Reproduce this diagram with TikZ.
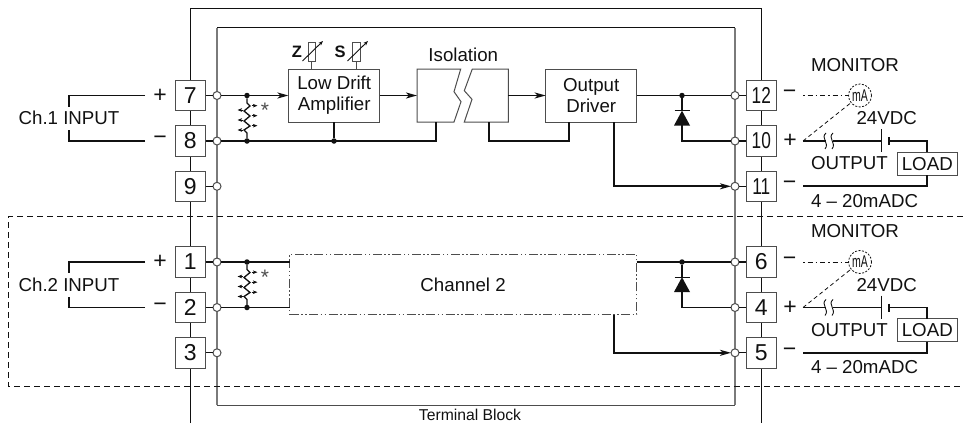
\documentclass[tikz,border=0pt]{standalone}
\usepackage{fontspec}
\setmainfont{Liberation Sans}
\usetikzlibrary{arrows.meta,calc}
\definecolor{ink}{HTML}{111111}
\definecolor{boxgray}{HTML}{4D4D4D}
\definecolor{railgray}{HTML}{7A7A7A}
\tikzset{
  x=1pt,y=-1pt,
  every node/.style={text=ink,inner sep=0pt,outer sep=0pt},
  txt/.style={font=\fontsize{18.7}{20.7}\selectfont,align=center},
  term/.style={draw=boxgray,fill=white,line width=1pt,minimum width=30.5pt,minimum height=30.5pt,font=\fontsize{23}{23}\selectfont},
  hole/.style={circle,draw=boxgray,fill=white,line width=1pt,minimum size=8pt},
  junc/.style={circle,fill=ink,minimum size=5.5pt},
  block/.style={draw=boxgray,fill=white,line width=1pt,txt},
  wire/.style={draw=ink,line width=1.7pt},
  stub/.style={draw=ink,line width=1.1pt},
  flow/.style={wire,-{Stealth[length=11pt,width=6pt,inset=3pt]}},
  sign/.style={font=\fontsize{23}{23}\selectfont},
  tinytip/.style={draw=ink,line width=.8pt,-{Stealth[length=4.5pt,width=3.5pt,inset=1pt]}},
}
% #1 prefix, #2 upper, #3 lower, #4 third term, #5 label
\newcommand{\inputside}[5]{%
  \node[term] (#1a) at (190.3,95.5) {#2};
  \node[term] (#1b) at (190.3,141) {#3};
  \node[term] (#1c) at (190.3,186.3) {#4};
  \node[hole] (#1ha) at (217,95.5) {};
  \node[hole] (#1hb) at (217,141) {};
  \node[hole] (#1hc) at (217,186.3) {};
  \draw[stub] (#1a) -- (#1ha);
  \draw[stub] (#1b) -- (#1hb);
  \draw[stub] (#1c) -- (#1hc);
  \node[junc] (#1ja) at (247,95.5) {};
  \node[junc] (#1jb) at (247,141) {};
  \draw[line width=1.3pt,draw=ink,line join=miter] (#1ja) -- (247,103) -- (250,106) -- (244,111) -- (250,116) -- (244,121) -- (250,126) -- (244,130) -- (247,133) -- (#1jb);
  \foreach \yy in {105.7,115.7,125.7} \draw[tinytip] (251.5,\yy) -- (257.5,\yy);
  \foreach \yy in {110,120,130} \draw[tinytip] (243,\yy) -- (237.5,\yy);
  \node[font=\fontsize{21}{21}\selectfont,text=boxgray] (#1star) at (265,110.5) {*};
  \node[txt] (#1lab) at (69,118) {#5};
  \coordinate (#1pa) at (145,95.5);
  \coordinate (#1pb) at (145,141);
  \draw[wire] (#1pa) -- (69,95.5) -- (69,106.5);
  \draw[wire] (#1pb) -- (69,141) -- (69,130);
  \node[sign] (#1plus) at (160,95.5) {+};
  \node[sign] (#1minus) at (160,140.5) {−};
}
% #1 prefix, #2 upper, #3 middle, #4 lower
\newcommand{\outputside}[4]{%
  \node[term] (#1a) at (761.3,95.5) {#2};
  \node[term] (#1b) at (761.3,141) {#3};
  \node[term] (#1c) at (761.3,186.3) {#4};
  \node[hole] (#1ha) at (735,95.5) {};
  \node[hole] (#1hb) at (735,141) {};
  \node[hole] (#1hc) at (735,186.3) {};
  \draw[stub] (#1a) -- (#1ha);
  \draw[stub] (#1b) -- (#1hb);
  \draw[stub] (#1c) -- (#1hc);
  \node[junc] (#1j) at (682,95.5) {};
  \coordinate (#1bar) at (682,110.7);
  \coordinate (#1tip) at (682,141);
  \draw[wire] (#1ha) -- (#1j);
  \draw[wire] (#1j) -- (#1bar);
  \draw[wire] (682,125) -- (#1tip) -- (#1hb);
  \draw[line width=1pt,draw=ink] (674.5,110.7) -- (689.5,110.7);
  \fill[ink] (682,110.7) -- (690,125.5) -- (674,125.5) -- cycle;
  \node[sign] (#1m1) at (789.5,94.5) {−};
  \node[sign] (#1p2) at (790,141) {+};
  \node[sign] (#1m3) at (789.5,185.5) {−};
  \node[circle,draw=ink,dash pattern=on 2pt off 1.5pt,line width=.8pt,minimum size=23pt,font=\fontsize{17}{17}\selectfont] (#1ma) at (860,95.5) {\scalebox{.62}[1]{mA}};
  \coordinate (#1wa) at (803,95.5);
  \coordinate (#1wb) at (803,141);
  \coordinate (#1wc) at (803,186.3);
  \draw[draw=ink,line width=.8pt,dash pattern=on 1.5pt off 3pt on 5pt off 3pt] (#1wa) -- (#1ma);
  \draw[draw=ink,line width=.8pt,dash pattern=on 4pt off 3pt] (#1wb) -- (#1ma);
  \node[draw=boxgray,fill=white,line width=1pt,minimum width=60.5pt,minimum height=22.7pt,txt] (#1load) at (927.3,163.7) {LOAD};
  \coordinate (#1bat) at (881.7,141);
  \coordinate (#1bat2) at (889.3,141);
  \draw[wire] (#1wb) -- (#1bat);
  \fill[white] (826,133) rectangle (832.5,149);
  \draw[draw=ink,line width=.9pt] (826,133) .. controls (820,138) and (830,143) .. (825,149);
  \draw[draw=ink,line width=.9pt] (833,133) .. controls (827,138) and (837,143) .. (832,149);
  \draw[draw=ink,line width=1pt] (881.7,129) -- (881.7,152);
  \draw[draw=ink,line width=2pt] (889.3,137) -- (889.3,145);
  \draw[wire] (#1bat2) -| (#1load.north);
  \draw[wire] (#1load.south) |- (#1wc);
  \node[txt,anchor=west] (#1t1) at (811,65) {MONITOR};
  \node[txt] (#1t2) at (886.7,118.5) {24VDC};
  \node[txt,anchor=west] (#1t3) at (811,163.5) {OUTPUT};
  \node[txt,anchor=west] (#1t4) at (811,201) {4 – 20mADC};
}
\begin{document}
\begin{tikzpicture}
\useasboundingbox (0,0) rectangle (963,423);
% terminal block rails
\coordinate (obl) at (190.5,423);
\coordinate (obr) at (761.3,423);
\draw[draw=ink,line width=1pt] (obl) -- (190.5,8.5) -- (761.3,8.5) -- (obr);
% inner frame
\coordinate (ftl) at (217,27.5);
\coordinate (ftr) at (735,27.5);
\coordinate (fbl) at (217,405.3);
\coordinate (fbr) at (735,405.3);
\draw[draw=railgray,line width=1.2pt] (fbl) -- (ftl);
\draw[draw=railgray,line width=1.2pt] (fbr) -- (ftr);
\draw[draw=ink,line width=.9pt] (ftl) -- (ftr);
\draw[draw=boxgray,line width=.9pt] (fbl) -- (fbr);
% channel-2 dashed frame
\draw[draw=ink,line width=.8pt,dash pattern=on 6pt off 4pt] (963,216.5) -- (8.8,216.5) -- (8.8,386.7) -- (963,386.7);
\node[font=\fontsize{15.7}{15.7}\selectfont] (tb) at (470,414.8) {Terminal Block};
% channel 1
\inputside{L}{7}{8}{9}{Ch.1 INPUT}
\outputside{R}{\scalebox{.75}[1]{12}}{\scalebox{.75}[1]{10}}{\scalebox{.75}[1]{11}}
\node[block,minimum width=91.5pt,minimum height=53pt] (amp) at (334.2,95.5) {Low Drift\\Amplifier};
\node[block,minimum width=91pt,minimum height=53pt] (drv) at (591.2,95.5) {Output\\Driver};
\node[txt] (iso) at (463.3,55) {Isolation};
\draw[block] (417,69) -- (460.7,69) -- (454,91.7) -- (461,101.7) -- (454,122) -- (417,122) -- cycle;
\draw[block] (508.3,69) -- (472.3,69) -- (464.3,90.7) -- (472,99.3) -- (464.3,122) -- (508.3,122) -- cycle;
\coordinate (isoL) at (417,95.5);
\coordinate (isoR) at (508.3,95.5);
\coordinate (isoLb) at (436.3,122);
\coordinate (isoRb) at (489.3,122);
\draw[flow] (Lha) -- (amp);
\draw[flow] (amp) -- (isoL);
\draw[flow] (isoR) -- (drv);
\draw[wire] (Lhb) -- (436.3,141) -- (isoLb);
\node[junc] (ampj) at (334,141) {};
\draw[wire] (ampj) -- (334,122);
\draw[wire] (isoRb) -- (489.3,141) -- (568.7,141) -- (568.7,122);
\draw[wire] (drv) -- (Rha);
\draw[flow] (614,122) -- (614,186.3) -- (Rhc);
% variable resistors
\node[font=\bfseries\fontsize{16.5}{16.5}\selectfont] (zl) at (297,52) {Z};
\node[font=\bfseries\fontsize{16.5}{16.5}\selectfont] (sl) at (340,52) {S};
\node[draw=boxgray,fill=white,line width=.9pt,minimum width=7.7pt,minimum height=18.6pt] (zr) at (311.8,52) {};
\node[draw=boxgray,fill=white,line width=.9pt,minimum width=7.7pt,minimum height=18.6pt] (sr) at (356.7,52) {};
\draw[draw=boxgray,line width=1pt] (zr) -- (zr |- amp.north);
\draw[draw=boxgray,line width=1pt] (sr) -- (sr |- amp.north);
\draw[tinytip,line width=.9pt] (302.5,61) -- (323,41);
\draw[tinytip,line width=.9pt] (347.5,61) -- (368,41);
% channel 2
\begin{scope}[yshift=-166.5pt]
\inputside{M}{1}{2}{3}{Ch.2 INPUT}
\outputside{Q}{6}{4}{5}
\end{scope}
\node[txt,draw=boxgray,line width=.9pt,dash pattern=on 9pt off 2.5pt on 1.5pt off 2.5pt on 1.5pt off 2.5pt,minimum width=347.2pt,minimum height=60.7pt] (ch2) at (463.1,284.4) {Channel 2};
\draw[wire] (Mha) -- (ch2.west |- Mha);
\draw[wire] (Mhb) -- (ch2.west |- Mhb);
\draw[wire] (ch2.east |- Qha) -- (Qha);
\draw[flow] (613.8,315) -- (613.8,352.8) -- (Qhc);
\end{tikzpicture}
\end{document}
